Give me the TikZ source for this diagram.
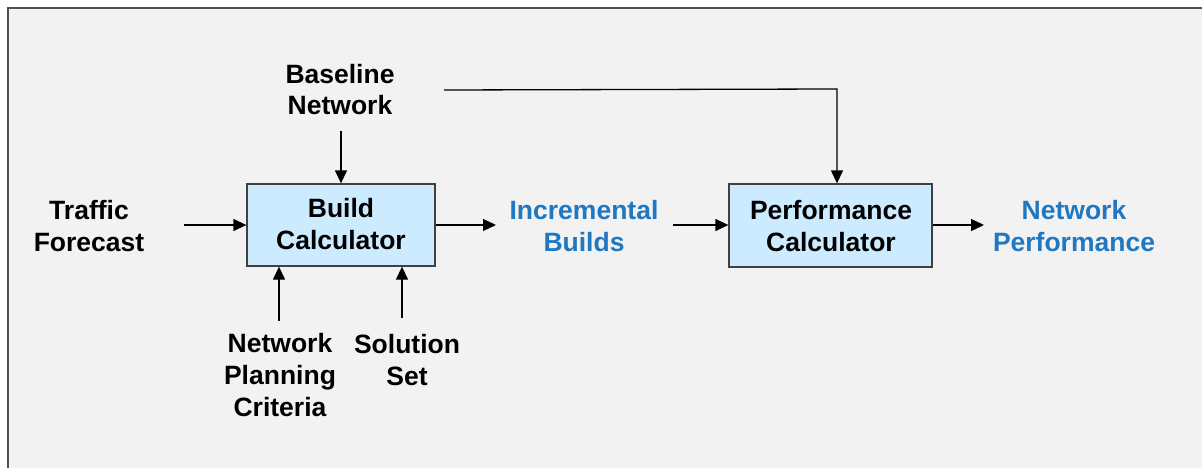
\documentclass[tikz,border=0pt]{standalone}
\usepackage{fontspec}
\setmainfont{Liberation Sans}
\usetikzlibrary{arrows.meta}
\definecolor{framefill}{HTML}{F2F2F2}
\definecolor{frameline}{HTML}{505050}
\definecolor{boxfill}{HTML}{CCEBFF}
\definecolor{boxline}{HTML}{404040}
\definecolor{outblue}{HTML}{1F78C1}
\newcommand{\tstr}{\rule{0pt}{20pt}}
\newcommand{\bstr}{\rule[-20pt]{0pt}{20pt}}
\tikzset{
  lbl/.style={inner sep=0pt, align=center, font=\fontsize{26.5}{32}\selectfont\bfseries},
  outlbl/.style={lbl, text=outblue},
  calcbox/.style={draw=boxline, fill=boxfill, line width=1.3pt, inner sep=0pt},
  conn/.style={line width=1.3pt, draw=black, -{Triangle[length=13pt,width=12pt]}},
  plainconn/.style={line width=1.3pt, draw=black}
}
\begin{document}
\begin{tikzpicture}[x=1pt,y=-1pt]
\useasboundingbox (0,0) rectangle (1202,468);
\fill[white] (0,0) rectangle (1202,468);
\draw[fill=framefill, draw=frameline, line width=1.5pt] (8,8) rectangle (1215,480);

% boxes
\node[calcbox, minimum width=188pt, minimum height=82pt] (build) at (341,225) {};
\node[lbl] (buildtxt) at (341,233.5) {\tstr Build\\Calculator\bstr};
\node[calcbox, minimum width=203pt, minimum height=83pt] (perf) at (830.5,225.5) {};
\node[lbl] (perftxt) at (831,235) {\tstr Performance\\Calculator\bstr};

% labels
\node[lbl] (traffic) at (89,235) {\tstr Traffic\\Forecast\bstr};
\node[lbl] (baseline) at (340,99) {\tstr Baseline\\Network\bstr};
\node[lbl] (npc) at (280,384) {\tstr Network\\Planning\\Criteria\bstr};
\node[lbl] (sol) at (407,369) {\tstr Solution\\Set\bstr};
\node[outlbl] (incr) at (584,235) {\tstr Incremental\\Builds\bstr};
\node[outlbl] (netperf) at (1074,235) {\tstr Network\\Performance\bstr};

% coordinates for connector ends
\coordinate (tr0) at (184,225);
\coordinate (bl0) at (341,131);
\coordinate (np0) at (279,321);
\coordinate (so0) at (402,318);
\coordinate (bo0) at (496,225);
\coordinate (in0) at (673,225);
\coordinate (pf0) at (984,225);
\coordinate (top0) at (444,90);
\coordinate (top1) at (837,89);

% connectors
\draw[conn] (tr0) -- (tr0 -| build.west);
\draw[conn] (bl0) -- (bl0 |- build.north);
\draw[conn] (np0) -- (np0 |- build.south);
\draw[conn] (so0) -- (so0 |- build.south);
\draw[conn] (bo0 -| build.east) -- (bo0);
\draw[conn] (in0) -- (in0 -| perf.west);
\draw[conn] (pf0 -| perf.east) -- (pf0);
\draw[conn] (top0) -- (top1) -- (top1 |- perf.north);
\end{tikzpicture}
\end{document}
